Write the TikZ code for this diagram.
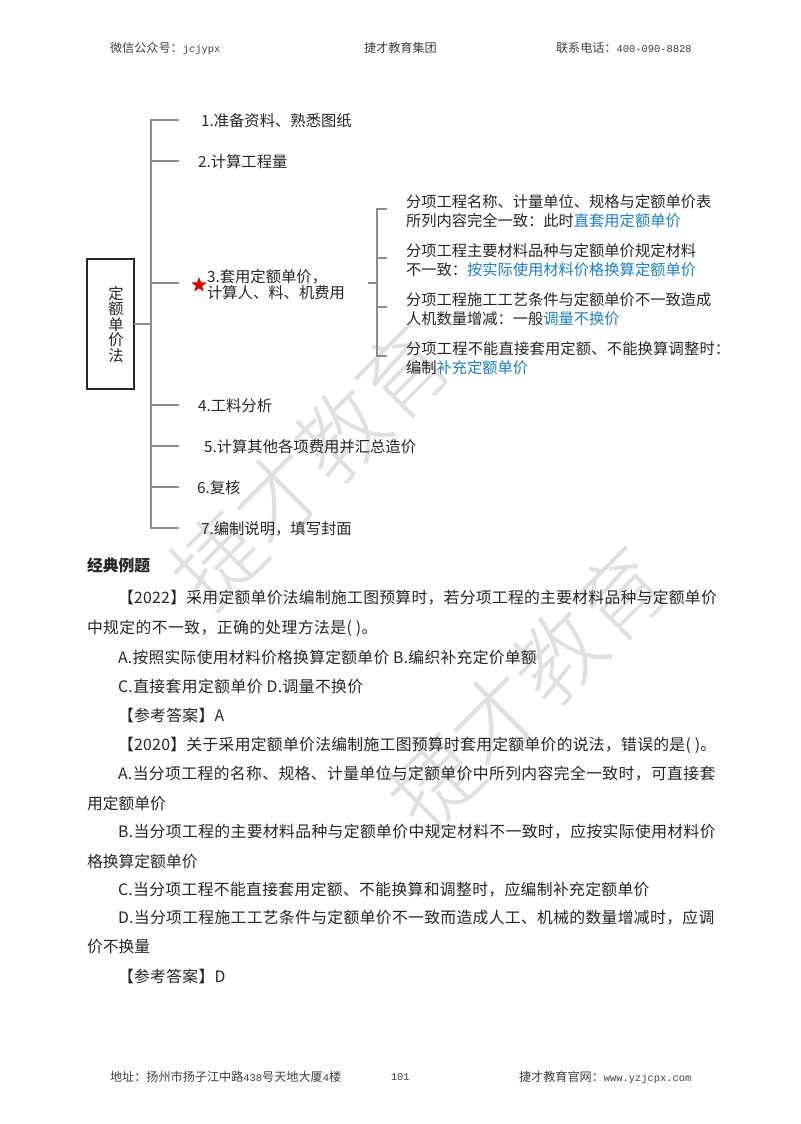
\documentclass[tikz,border=0pt]{standalone}
\usepackage{fontspec}
\usetikzlibrary{shapes.geometric}
\setmainfont{Noto Sans CJK SC}
\newfontfamily\wmfont{Noto Sans CJK SC Light}
\newfontfamily\pagemono{Liberation Mono}
\definecolor{wm}{HTML}{E0E0E0}
\definecolor{linkblue}{HTML}{1B7FC4}
\definecolor{linegray}{HTML}{8C8C8C}
\definecolor{ink}{HTML}{262626}
\newcommand{\bl}[1]{\textcolor{linkblue}{#1}}
\newcommand{\ls}[2]{{\addfontfeature{LetterSpace=#1}#2}}
\newcommand{\pmono}[1]{{\pagemono\fontsize{7.8pt}{7.8pt}\selectfont #1}}
\tikzset{
  x=0.75pt,y=-0.75pt,
  every node/.style={inner sep=0pt,outer sep=0pt,text=ink},
  item/.style={anchor=west,yshift=-0.75pt,font=\fontsize{11.5pt}{11.5pt}\selectfont},
  subitem/.style={anchor=west,yshift=-0.4pt,font=\fontsize{11.45pt}{14.6pt}\selectfont,align=left},
  body/.style={anchor=west,yshift=-0.75pt,font=\fontsize{11.85pt}{11.85pt}\selectfont},
  pagetext/.style={anchor=west,font=\fontsize{9.1pt}{9.1pt}\selectfont,text=black!75},
  wmark/.style={rotate=45,font=\wmfont\fontsize{66pt}{66pt}\selectfont,text=wm},
  branch/.style={draw=linegray,line width=0.85pt},
  rootbox/.style={draw=black!85,line width=0.8pt,minimum width=35.25pt,minimum height=97.5pt},
  rootlabel/.style={align=center,font=\fontsize{11.5pt}{11.6pt}\selectfont},
  starmark/.style={star,star points=5,star point ratio=2.4,fill=red!85!black,minimum size=12pt}
}
\begin{document}
\begin{tikzpicture}
\useasboundingbox (0,0) rectangle (800,1124);
\fill[white] (0,0) rectangle (800,1124);
% watermark
\node[wmark] (wm1) at (310,466) {捷才教育};
\node[wmark] (wm2) at (527,688) {捷才教育};
% page header and footer
\node[pagetext] (h1) at (110,48) {微信公众号：\pmono{jcjypx}};
\node[pagetext] (h2) at (364,48) {捷才教育集团};
\node[pagetext] (h3) at (556,48) {联系电话：\pmono{400-090-8828}};
\node[pagetext] (f1) at (110,1077) {地址：扬州市扬子江中路\pmono{438}号天地大厦\pmono{4}楼};
\node[pagetext] (f2) at (391,1077) {\pmono{101}};
\node[pagetext] (f3) at (519,1077) {捷才教育官网：\pmono{www.yzjcpx.com}};
% root
\node[rootbox] (root) at (110.5,324) {};
\node[rootlabel] (rootl) at (116,324.5) {定\\额\\单\\价\\法};
% first level
\node[item] (n1) at (201,120) {1.准备资料、熟悉图纸};
\node[item] (n2) at (198,161) {2.计算工程量};
\node[item,align=left,font=\fontsize{11.5pt}{11.6pt}\selectfont] (n3) at (207,283.5) {3.套用定额单价，\\计算人、料、机费用};
\node[item] (n4) at (198,405) {4.工料分析};
\node[item] (n5) at (204,446) {5.计算其他各项费用并汇总造价};
\node[item] (n6) at (197,487) {6.复核};
\node[item] (n7) at (201,528) {7.编制说明，填写封面};
\node[starmark] (star) at (199,285) {};
% second level
\node[subitem] (s1) at (406,210.5) {分项工程名称、计量单位、规格与定额单价表\\所列内容完全一致：此时\bl{直套用定额单价}};
\node[subitem] (s2) at (406,259.5) {分项工程主要材料品种与定额单价规定材料\\不一致：\bl{按实际使用材料价格换算定额单价}};
\node[subitem] (s3) at (406,308.5) {分项工程施工工艺条件与定额单价不一致造成\\人机数量增减：一般\bl{调量不换价}};
\node[subitem] (s4) at (406,357.5) {\ls{1.2}{分项工程不能直接套用定额、不能换算调整时：}\\编制\bl{补充定额单价}};
% connector points
\coordinate (tj) at (151,324);
\foreach \k/\yy in {1/120,2/161,3/283,4/405,5/446,6/487,7/528}{
  \coordinate (t\k) at (151,\yy);
  \coordinate (e\k) at (179,\yy);
}
\coordinate (sj) at (377,283);
\coordinate (sin) at (368,283);
\foreach \k/\yy in {1/209,2/258,3/307,4/356}{
  \coordinate (st\k) at (377,\yy);
  \coordinate (se\k) at (387,\yy);
}
\draw[branch] (root.east |- tj) -- (tj);
\draw[branch] (e1) -- (t1) -- (t7) -- (e7);
\foreach \k in {2,3,4,5,6}{\draw[branch] (t\k) -- (e\k);}
\draw[branch] (sin) -- (sj);
\draw[branch] (se1) -- (st1) -- (st4) -- (se4);
\foreach \k in {2,3}{\draw[branch] (st\k) -- (se\k);}
% body text
\node[body,font=\fontsize{11.85pt}{11.85pt}\bfseries] (b0) at (87,564) {经典例题};
\node[body] (b1) at (118,597) {\ls{1.8}{【2022】采用定额单价法编制施工图预算时，若分项工程的主要材料品种与定额单价}};
\node[body] (b2) at (87,627) {\ls{2.7}{中规定的不一致，正确的处理方法是( )。}};
\node[body] (b3) at (118,656) {\ls{1.7}{A.按照实际使用材料价格换算定额单价 B.编织补充定价单额}};
\node[body] (b4) at (118,685) {\ls{2.6}{C.直接套用定额单价 D.调量不换价}};
\node[body] (b5) at (118,714) {\ls{2}{【参考答案】A}};
\node[body] (b6) at (118,744) {\ls{1.9}{【2020】关于采用定额单价法编制施工图预算时套用定额单价的说法，错误的是( )。}};
\node[body] (b7) at (118,773) {\ls{2.5}{A.当分项工程的名称、规格、计量单位与定额单价中所列内容完全一致时，可直接套}};
\node[body] (b8) at (87,802) {用定额单价};
\node[body] (b9) at (118,831) {\ls{2.4}{B.当分项工程的主要材料品种与定额单价中规定材料不一致时，应按实际使用材料价}};
\node[body] (b10) at (87,860) {格换算定额单价};
\node[body] (b11) at (118,889) {\ls{2.2}{C.当分项工程不能直接套用定额、不能换算和调整时，应编制补充定额单价}};
\node[body] (b12) at (118,917) {\ls{2.1}{D.当分项工程施工工艺条件与定额单价不一致而造成人工、机械的数量增减时，应调}};
\node[body] (b13) at (87,946) {价不换量};
\node[body] (b14) at (118,975) {\ls{2}{【参考答案】D}};
\end{tikzpicture}
\end{document}
